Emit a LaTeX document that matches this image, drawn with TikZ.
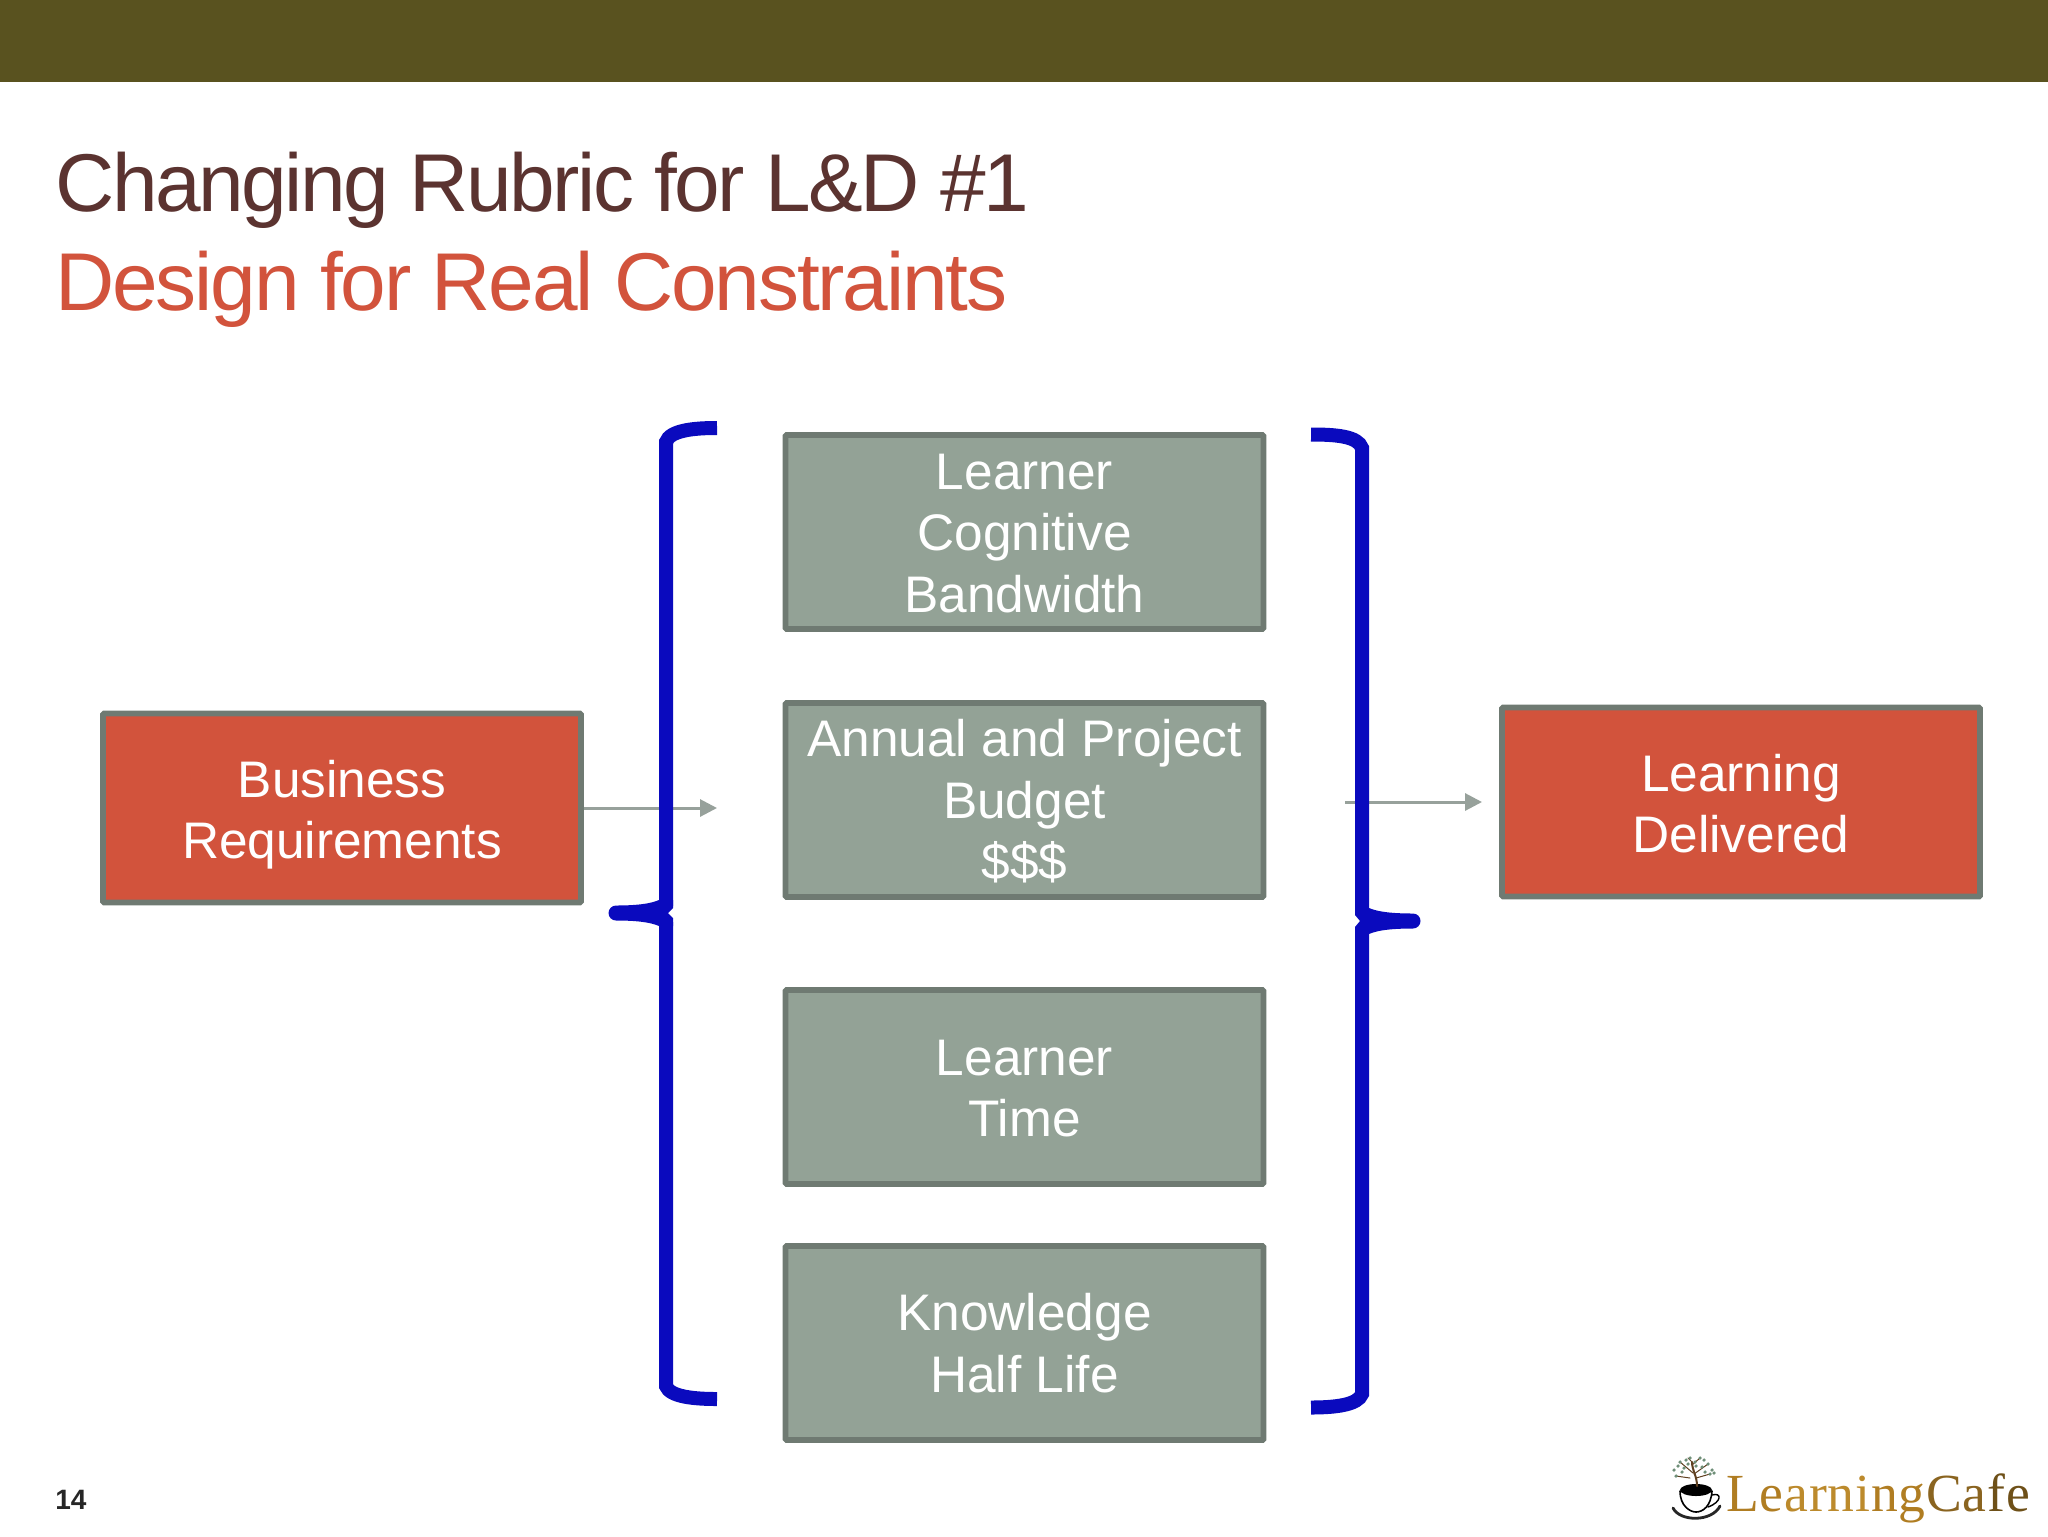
\documentclass[tikz,border=0pt]{standalone}
\usepackage{fontspec}
\setmainfont{Liberation Sans}
\newfontfamily\logofont{Liberation Serif}
\newfontfamily\titlefont[LetterSpace=-3.0]{Liberation Sans}
\newfontfamily\subtitlefont[LetterSpace=-2.7]{Liberation Sans}
\usetikzlibrary{arrows.meta}
\definecolor{barc}{HTML}{59521F}
\definecolor{titlec}{HTML}{5B3330}
\definecolor{redc}{HTML}{D2533C}
\definecolor{grayc}{HTML}{93A296}
\definecolor{edgec}{HTML}{6F7A72}
\definecolor{bluec}{HTML}{0A0ABE}
\definecolor{arrowc}{HTML}{97A19B}
\definecolor{lgA}{HTML}{B07D22}
\definecolor{lgB}{HTML}{BC8A2C}
\definecolor{lgC}{HTML}{8A6420}
\definecolor{lgD}{HTML}{6E5018}
\definecolor{leaf}{HTML}{6F8F78}
\newcommand{\toprule}[1]{\rule{0pt}{#1}}
\tikzset{
  card/.style={draw=edgec,line width=2.8pt,rounded corners=0.5pt,minimum width=239pt,
    text=white,align=center,font=\fontsize{25.7}{30.7}\selectfont,inner sep=0pt,outer sep=1.4pt},
  graybox/.style={card,fill=grayc,minimum height=97pt},
  redbox/.style={card,fill=redc,minimum height=94.5pt},
  flow/.style={draw=arrowc,line width=1.5pt,-{Triangle[length=8.5pt,width=8.5pt,fill=arrowc]}},
  brace/.style={draw=bluec,line width=7pt,line cap=butt},
  bracetip/.style={fill=bluec,draw=none},
  titletext/.style={anchor=base west,inner sep=0pt,font=\fontsize{41}{48}\selectfont},
  lg/.style={anchor=base west,inner sep=0pt,font=\logofont\fontsize{26.8}{30}\selectfont},
}
\begin{document}
\begin{tikzpicture}[x=0.5pt,y=-0.5pt]
\useasboundingbox (0,0) rectangle (2048,1536);
\fill[white] (0,0) rectangle (2048,1536);
\fill[barc] (0,0) rectangle (2048,82);
\node[titletext,text=titlec] (title) at (55,211) {\titlefont Changing Rubric for L\&D \#1};
\node[titletext,text=redc] (subtitle) at (55,310) {\subtitlefont Design for Real Constraints};

\node[redbox] (biz) at (342,808) {\toprule{25.3pt}Business\\Requirements};
\node[redbox] (learn) at (1741,802) {\toprule{20.1pt}Learning\\Delivered};
\node[graybox] (cog) at (1024.5,532) {\toprule{18.9pt}Learner\\Cognitive\\Bandwidth};
\node[graybox] (bud) at (1024.5,800) {\toprule{20.1pt}Annual and Project\\Budget\\\$\$\$};
\node[graybox] (time) at (1024.5,1087) {\toprule{19.5pt}Learner\\Time};
\node[graybox] (know) at (1024.5,1343) {\toprule{18.9pt}Knowledge\\Half Life};

\coordinate (bizend) at (717,808);
\coordinate (outstart) at (1345,802);
\coordinate (outend) at (1482,802);
\draw[flow] (biz.east) -- (bizend);
\draw[flow] (outstart) -- (outend);

% left bracket
\draw[brace] (717,428) .. controls (695,428) and (670,430) .. (666,442) -- (666,906);
\draw[brace] (666,922) -- (666,1386) .. controls (670,1397) and (695,1399) .. (717,1399);
\fill[bracetip] (659,900) .. controls (650,904) and (635,905.5) .. (616,905.5)
  arc[start angle=270,end angle=90,radius=7.5] .. controls (635,920.5) and (650,922) .. (659,926)
  -- (673,926) -- (673,918) -- (668,913) -- (673,908) -- (673,900) -- cycle;
% right bracket
\draw[brace] (1311,434.5) .. controls (1335,434.5) and (1358,436) .. (1362,448) -- (1362,914);
\draw[brace] (1362,930) -- (1362,1394) .. controls (1358,1405) and (1335,1407.5) .. (1311,1407.5);
\fill[bracetip] (1369,908) .. controls (1378,912) and (1393,913.5) .. (1413,913.5)
  arc[start angle=-90,end angle=90,radius=7.5] .. controls (1393,928.5) and (1378,930) .. (1369,934)
  -- (1355,934) -- (1355,927) -- (1360,921) -- (1355,915) -- (1355,908) -- cycle;

\node[anchor=base west,inner sep=0pt,font=\bfseries\fontsize{14}{16}\selectfont,text=black!85] (page) at (55,1509) {14};

% logo: cup with a tree
\begin{scope}[line cap=round]
  \draw[line width=1.4pt,black!85] (1673,1508) .. controls (1680,1522) and (1712,1522) .. (1720,1506);
  \draw[line width=0.8pt,black] (1680,1491) .. controls (1680,1506) and (1690,1512) .. (1696,1512)
     .. controls (1703,1512) and (1711,1506) .. (1712,1491);
  \draw[line width=0.7pt,black] (1712,1495) .. controls (1722,1492) and (1722,1502) .. (1708,1507);
  \fill[black] (1696,1490) ellipse[x radius=16,y radius=6];
  \draw[line width=1pt,black!50!brown] (1697,1486) .. controls (1697,1476) and (1692,1470) .. (1692,1462);
  \draw[line width=0.5pt,black!50!brown] (1693,1473) -- (1680,1462) (1694,1474) -- (1708,1464)
    (1692,1465) -- (1700,1458) (1690,1478) -- (1676,1476) (1696,1478) -- (1710,1474) (1692,1462) -- (1688,1458);
  \foreach \p in {(1680,1462),(1686,1460),(1690,1458),(1695,1462),(1700,1458),(1708,1464),(1712,1470),(1714,1473),(1676,1476),(1674,1470),(1705,1472),(1696,1466),(1684,1468),(1710,1474),(1704,1460),(1682,1472),(1702,1467),(1688,1464),(1678,1466)}
    \fill[leaf] \p circle[radius=1.8];
\end{scope}
% logo lettering
\node[lg,text=lgA] (lgL) at (1726,1511) {L};
\node[lg,text=lgA,anchor=base west] (lgE) at (lgL.base east) {e};
\node[lg,text=lgB,anchor=base west] (lgF) at (lgE.base east) {a};
\node[lg,text=lgB,anchor=base west] (lgG) at (lgF.base east) {r};
\node[lg,text=lgB,anchor=base west] (lgH) at (lgG.base east) {n};
\node[lg,text=lgB,anchor=base west] (lgI) at (lgH.base east) {i};
\node[lg,text=lgA,anchor=base west] (lgJ) at (lgI.base east) {n};
\node[lg,text=lgA,anchor=base west] (lgK) at (lgJ.base east) {g};
\node[lg,text=lgC,anchor=base west] (lgM) at (lgK.base east) {C};
\node[lg,text=lgC,anchor=base west] (lgN) at (lgM.base east) {a};
\node[lg,text=lgD,anchor=base west] (lgO) at (lgN.base east) {f};
\node[lg,text=lgD,anchor=base west] (lgP) at (lgO.base east) {e};
\end{tikzpicture}
\end{document}
